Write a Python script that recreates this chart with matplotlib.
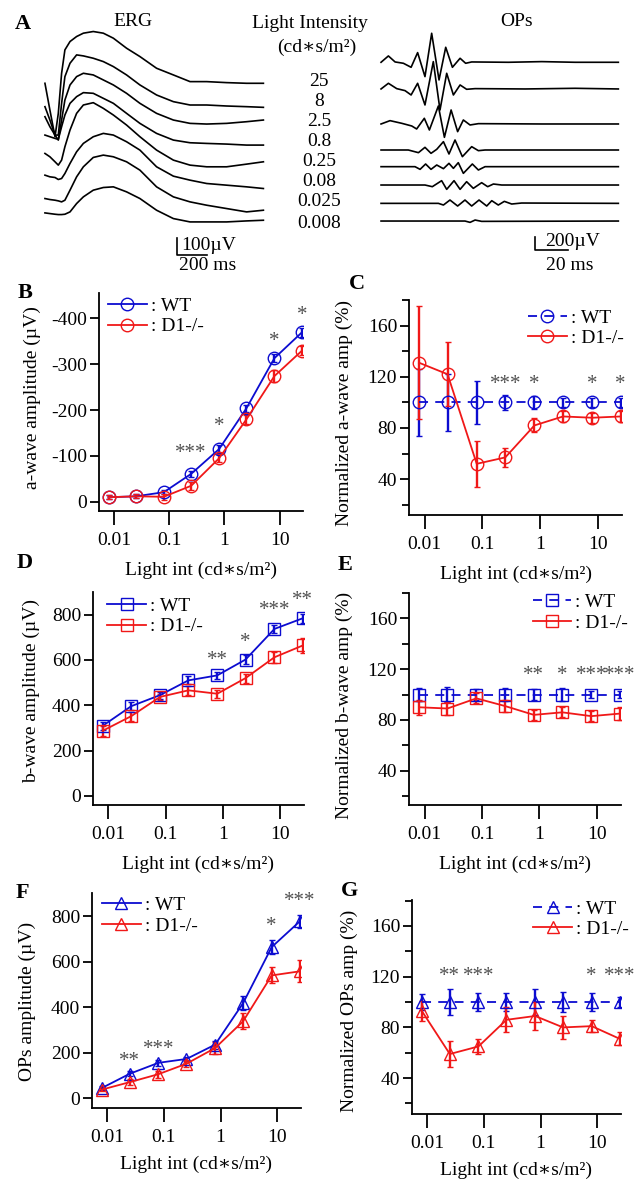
import numpy as np
import matplotlib
matplotlib.use('Agg')
import matplotlib.pyplot as plt
from matplotlib.ticker import FixedLocator, FixedFormatter, NullLocator

plt.rcParams['font.family'] = ['Liberation Serif', 'DejaVu Serif']
plt.rcParams['axes.unicode_minus'] = False

# ---- data ----
intensity = [0.008, 0.025, 0.08, 0.25, 0.8, 2.5, 8, 25]
intensity_labels = ['25', '8', '2.5', '0.8', '0.25', '0.08', '0.025', '0.008']

# ERG traces (uV vs ms), top = brightest flash
erg_time = [0, 33, 67, 89, 111, 133, 167, 211, 256, 322, 389, 456, 544, 633,
            744, 856, 967, 1078, 1211, 1344, 1456]
erg_traces = [
    [0, -160, -320, -180, 60, 200, 250, 280, 300, 310, 300, 270, 210, 160, 90, 50, 10, 10, 4, 0, 0],
    [0, -80, -170, -170, 20, 180, 260, 310, 304, 290, 270, 240, 190, 130, 70, 30, 10, 10, 4, 0, -4],
    [0, -60, -110, -140, -20, 100, 190, 240, 260, 250, 220, 190, 140, 80, 20, -20, -40, -44, -40, -30, -20],
    [0, -10, -20, -26, 50, 120, 190, 230, 254, 250, 220, 190, 130, 70, 10, -30, -46, -50, -54, -60, -60],
    [0, -20, -50, -70, -40, 40, 140, 240, 290, 304, 270, 230, 170, 100, 20, -40, -70, -80, -80, -64, -50],
    [0, -10, -14, -26, -20, 10, 70, 140, 190, 230, 250, 240, 200, 150, 50, -6, -30, -50, -60, -70, -80],
    [0, -6, -10, -14, -20, -10, 50, 130, 190, 246, 260, 250, 220, 170, 70, 10, -20, -40, -60, -80, -70],
    [0, -4, -8, -10, -10, -8, 6, 56, 96, 136, 152, 156, 126, 86, 16, -34, -54, -54, -54, -48, -44],
]
erg_offsets = [0, -140, -200, -310, -420, -550, -690, -776]

# OPs traces (uV vs ms)
ops_time = [
    [0, 4.5, 8.6, 13.7, 18.4, 22.4, 26.9, 31.0, 35.5, 39.6, 43.7, 48.4, 51.8, 55.5, 78, 98.4, 118.8, 145.3],
    [0, 4.5, 9.6, 14.7, 18.4, 22.4, 26.9, 32.0, 36.1, 40.2, 44.3, 48.4, 52.4, 57.6, 88.2, 118.8, 145.3],
    [0, 5.5, 12.7, 18.8, 21.8, 26.5, 29.6, 35.1, 38.8, 42.9, 46.9, 50.4, 54.5, 59.6, 98.4, 145.3],
    [0, 16.7, 22.9, 26.9, 30.6, 34.1, 38.2, 41.6, 45.3, 49.8, 55.5, 59.6, 63.7, 98.4, 145.3],
    [0, 20.8, 23.9, 27.3, 30.6, 34.1, 38.2, 41.6, 44.3, 47.3, 50.4, 55.9, 59.6, 63.7, 98.4, 145.3],
    [0, 26.9, 31.4, 37.1, 40.2, 44.7, 48.4, 52.4, 56.5, 61.6, 65.3, 68.8, 73.9, 145.3],
    [0, 35.1, 38.2, 42.2, 46.9, 51.4, 55.5, 60.0, 64.7, 67.8, 71.8, 75.5, 80.0, 86.1, 145.3],
    [0, 51.4, 54.5, 57.6, 61.6, 145.3],
]
ops_traces = [
    [0, 95, 5, -15, -75, 145, -215, 435, -265, 225, -75, 60, -15, 5, 0, 10, 0, 0],
    [0, 85, 5, -25, -90, 85, -240, 410, -315, 235, -90, 60, -5, 5, 0, 10, 0],
    [0, 50, 10, -30, -75, 85, -90, 270, -200, 210, -115, 60, -15, 5, 0, 0],
    [0, 0, -40, 40, -50, 10, 125, -60, 150, -100, 50, -10, 0, 0, 0],
    [0, 0, -40, 40, -40, 25, -30, 50, -25, 60, -100, 40, -50, 0, 0, 0],
    [0, 0, -25, 65, -65, 65, -65, 50, -50, 35, -25, 15, 0, 0],
    [0, 0, -25, 50, -40, 50, -40, 50, -40, 40, -25, 30, -10, 5, 0],
    [0, 0, -20, 15, -5, 0],
]
ops_offsets = [0, -400, -925, -1315, -1565, -1840, -2115, -2380]

# B: a-wave amplitude (uV)
awave_wt = [-10, -12, -21, -61, -115, -204, -313, -369]
awave_wt_err = [4, 4, 5, 7, 8, 8, 8, 9]
awave_d1 = [-10, -12, -11, -35, -95, -180, -274, -329]
awave_d1_err = [4, 4, 6, 9, 9, 10, 13, 10]
stars_b_x = [0.25, 0.8, 8, 25]
stars_b_y = [-106, -164, -349, -407]
stars_b = ['***', '*', '*', '*']

# C: normalized a-wave (%)
awave_n_wt = [100, 100, 100, 100, 100, 100, 100, 100]
awave_n_wt_err = [26, 22, 17, 6, 5, 3.5, 3.5, 3.5]
awave_n_d1 = [131, 122, 52, 57, 82, 89, 88, 89]
awave_n_d1_err = [44, 25, 18, 7.5, 5.5, 4, 4, 4]
stars_c_x = [0.25, 0.8, 8, 25]
stars_c_y = [114, 114, 114, 114]
stars_c = ['***', '*', '*', '*']

# D: b-wave amplitude (uV)
bwave_wt = [310, 396, 445, 510, 532, 602, 737, 784]
bwave_wt_err = [18, 18, 15, 18, 15, 20, 18, 20]
bwave_d1 = [288, 352, 437, 466, 451, 520, 612, 664]
bwave_d1_err = [22, 20, 15, 20, 18, 20, 25, 33]
stars_d_x = [0.8, 2.5, 8, 25]
stars_d_y = [598, 678, 818, 862]
stars_d = ['**', '*', '***', '**']

# E: normalized b-wave (%)
bwave_n_wt = [100, 100, 100, 100, 100, 100, 100, 100]
bwave_n_wt_err = [5, 6, 4, 5, 4, 5, 3, 3]
bwave_n_d1 = [90, 89, 97, 91, 84, 86, 83, 85]
bwave_n_d1_err = [6, 5, 4, 5, 4, 4, 4, 5]
stars_e_x = [0.8, 2.5, 8, 25]
stars_e_y = [115, 115, 115, 115]
stars_e = ['**', '*', '***', '***']

# F: OPs amplitude (uV)
ops_wt = [44, 107, 155, 172, 235, 418, 665, 778]
ops_wt_err = [8, 12, 12, 10, 18, 30, 30, 30]
ops_d1 = [37, 70, 105, 151, 220, 338, 540, 558]
ops_d1_err = [8, 12, 15, 15, 28, 35, 35, 48]
stars_f_x = [0.025, 0.08, 8, 25]
stars_f_y = [161, 213, 756, 866]
stars_f = ['**', '***', '*', '***']

# G: normalized OPs (%)
ops_n_wt = [100, 100, 100, 100, 100, 100, 100, 100]
ops_n_wt_err = [6, 10, 7, 7, 10, 8, 7, 4]
ops_n_d1 = [93, 59, 65, 86, 89, 80, 81, 71]
ops_n_d1_err = [8, 10, 6, 10, 11, 9, 5, 5]
stars_g_x = [0.025, 0.08, 8, 25]
stars_g_y = [120, 120, 120, 120]
stars_g = ['**', '***', '*', '***']

# ---- figure ----
W, H = 643, 1182
fig = plt.figure(figsize=(W / 100, H / 100), dpi=100)
BLUE = '#0c0cd0'
RED = '#f01818'
FS = 14


def px_axes(x0, y0, x1, y1):
    return fig.add_axes([x0 / W, 1 - y1 / H, (x1 - x0) / W, (y1 - y0) / H])


def ftext(x, y, s, **kw):
    fig.text(x / W, 1 - y / H, s, **kw)


# panel A: ERG
ax = px_axes(40, 25, 270, 260)
for tr, off in zip(erg_traces, erg_offsets):
    ax.plot(erg_time, np.array(tr) + off, color='black', lw=1.2,
            solid_joinstyle='round')
ax.plot([878, 878, 1078], [-928, -1028, -1028], color='black', lw=1.2)
ax.set_xlim(-33, 1500)
ax.set_ylim(-1058, 349)
ax.axis('off')

# panel A: OPs
ax = px_axes(375, 30, 643, 280)
for t, tr, off in zip(ops_time, ops_traces, ops_offsets):
    ax.plot(t, np.array(tr) + off, color='black', lw=1.2,
            solid_joinstyle='round')
ax.plot([94.3, 94.3, 114.3], [-2616, -2816, -2816], color='black', lw=1.2)
ax.set_xlim(-3.7, 160.4)
ax.set_ylim(-3264, 484)
ax.axis('off')

ftext(23, 24, 'A', fontsize=16, fontweight='bold', ha='center', va='center')
ftext(133, 22, 'ERG', fontsize=FS, ha='center', va='center')
ftext(310, 23, 'Light Intensity', fontsize=FS, ha='center', va='center')
ftext(317, 47, '(cd\u2217s/m\u00b2)', fontsize=FS, ha='center', va='center')
ftext(517, 22, 'OPs', fontsize=FS, ha='center', va='center')
label_y = [82, 102, 121, 142, 162, 182, 202, 223]
for yy, s in zip(label_y, intensity_labels):
    ftext(319, yy, s, fontsize=FS, ha='center', va='center')
ftext(181, 245, '100\u00b5V', fontsize=FS, ha='left', va='center')
ftext(208, 265, '200 ms', fontsize=FS, ha='center', va='center')
ftext(545, 241, '200\u00b5V', fontsize=FS, ha='left', va='center')
ftext(570, 265, '20 ms', fontsize=FS, ha='center', va='center')

XLIM = (10 ** -2.27, 10 ** 1.42)


def stat_panel(box, ylim, yticks, yminor, ylabel, ylab_pos, xlab_pad,
               wt, wt_err, d1, d1_err, marker, ms, wt_dashed, leg_anchor,
               sx, sy, stxt):
    ax = px_axes(*box)
    wt_ls = (0, (5, 4)) if wt_dashed else '-'
    c1 = ax.errorbar(intensity, wt, yerr=wt_err, color=BLUE, ls=wt_ls, lw=1.3,
                     marker=marker, ms=ms, mfc='none', mec=BLUE, mew=1.0,
                     elinewidth=1.7, capsize=2.3, capthick=1.5, zorder=3)
    c2 = ax.errorbar(intensity, d1, yerr=d1_err, color=RED, ls='-', lw=1.3,
                     marker=marker, ms=ms, mfc='none', mec=RED, mew=1.0,
                     elinewidth=1.7, capsize=2.3, capthick=1.5, zorder=3)
    ax.set_xscale('log')
    ax.set_xlim(*XLIM)
    ax.xaxis.set_major_locator(FixedLocator([0.01, 0.1, 1, 10]))
    ax.xaxis.set_major_formatter(FixedFormatter(['0.01', '0.1', '1', '10']))
    ax.xaxis.set_minor_locator(NullLocator())
    ax.set_ylim(*ylim)
    ax.yaxis.set_major_locator(FixedLocator(yticks))
    if yminor:
        ax.yaxis.set_minor_locator(FixedLocator(yminor))
    else:
        ax.yaxis.set_minor_locator(NullLocator())
    for s in ['top', 'right']:
        ax.spines[s].set_visible(False)
    for s in ['left', 'bottom']:
        ax.spines[s].set_linewidth(1.3)
    ax.tick_params(axis='x', which='major', length=10, width=1.3, pad=5,
                   labelsize=FS)
    ax.tick_params(axis='y', which='major', length=6.5, width=1.3, pad=2,
                   labelsize=FS)
    ax.tick_params(axis='y', which='minor', length=5, width=1.3)
    ax.set_ylabel(ylabel, fontsize=FS)
    ax.yaxis.set_label_coords(*ylab_pos)
    ax.set_xlabel('Light int (cd\u2217s/m\u00b2)', fontsize=FS, labelpad=xlab_pad)
    for x, y, s in zip(sx, sy, stxt):
        ax.text(x, y, s, color='#505050', fontsize=15, ha='center',
                va='center')
    ax.legend([c1.lines[0], c2.lines[0]], [': WT', ': D1-/-'], loc='upper left',
              bbox_to_anchor=leg_anchor, frameon=False, fontsize=FS,
              handlelength=2.0, handletextpad=0.2, borderpad=0,
              borderaxespad=0, labelspacing=0.15)
    return ax


stat_panel((99, 293, 303, 511), (20, -455), [0, -100, -200, -300, -400],
           None, 'a-wave amplitude (\u00b5V)', (-0.284, 0.52), 9,
           awave_wt, awave_wt_err, awave_d1, awave_d1_err, 'o', 9, False,
           (0.044, 0.98), stars_b_x, stars_b_y, stars_b)
stat_panel((409, 300, 622, 515), (12, 180), [40, 80, 120, 160],
           [20, 60, 100, 140, 180], 'Normalized a-wave amp (%)',
           (-0.263, 0.474), 9, awave_n_wt, awave_n_wt_err, awave_n_d1,
           awave_n_d1_err, 'o', 9, True, (0.558, 0.958),
           stars_c_x, stars_c_y, stars_c)
stat_panel((93, 592, 304, 805), (-40, 900), [0, 200, 400, 600, 800], None,
           'b-wave amplitude (\u00b5V)', (-0.251, 0.535), 9,
           bwave_wt, bwave_wt_err, bwave_d1, bwave_d1_err, 's', 8, False,
           (0.068, 0.975), stars_d_x, stars_d_y, stars_d)
stat_panel((409, 593, 621, 805), (13, 180), [40, 80, 120, 160],
           [20, 60, 100, 140, 180], 'Normalized b-wave amp (%)',
           (-0.264, 0.47), 9, bwave_n_wt, bwave_n_wt_err, bwave_n_d1,
           bwave_n_d1_err, 's', 8, True, (0.583, 0.997),
           stars_e_x, stars_e_y, stars_e)
stat_panel((92, 893, 301, 1108), (-44, 903), [0, 200, 400, 600, 800], None,
           'OPs amplitude (\u00b5V)', (-0.268, 0.494), 7,
           ops_wt, ops_wt_err, ops_d1, ops_d1_err, '^', 9, False,
           (0.048, 0.983), stars_f_x, stars_f_y, stars_f)
stat_panel((412, 900, 621, 1114), (11.7, 180.5), [40, 80, 120, 160],
           [20, 60, 100, 140, 180], 'Normalized OPs amp (%)',
           (-0.258, 0.48), 7, ops_n_wt, ops_n_wt_err, ops_n_d1,
           ops_n_d1_err, '^', 9, True, (0.58, 1.0),
           stars_g_x, stars_g_y, stars_g)

for s, x, y in [('B', 25, 293), ('C', 357, 284), ('D', 25, 563),
                ('E', 345, 565), ('F', 22, 893), ('G', 350, 891)]:
    ftext(x, y, s, fontsize=16, fontweight='bold', ha='center', va='center')

fig.savefig('out.png', dpi=100)
